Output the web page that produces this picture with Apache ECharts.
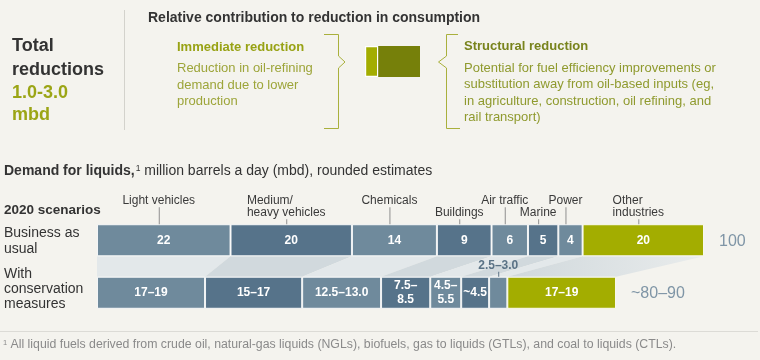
<!DOCTYPE html>
<html><head><meta charset="utf-8">
<script src="https://cdn.jsdelivr.net/npm/echarts@6/dist/echarts.min.js"></script>
<style>html,body{margin:0;padding:0;background:#f4f3ee}#c{width:760px;height:360px}</style>
</head><body><div id="c"></div>
<script>
// ---------- data ----------
const sectors = ['Light vehicles', 'Medium/\nheavy vehicles', 'Chemicals', 'Buildings', 'Air traffic', 'Marine', 'Power', 'Other\nindustries'];
const sectorLabelRaised = [true, false, true, false, true, false, true, false];
const scenarios = ['Business as usual', 'With conservation measures'];
const businessAsUsual = [22, 20, 14, 9, 6, 5, 4, 20];
const businessAsUsualLabels = ['22', '20', '14', '9', '6', '5', '4', '20'];
const conservation = [17.8, 16, 13, 8.1, 5.1, 4.6, 3.0, 17.9];
const conservationLabels = ['17–19', '15–17', '12.5–13.0', '7.5–\n8.5', '4.5–\n5.5', '~4.5', '2.5–3.0', '17–19'];
const conservationLabelAbove = [false, false, false, false, false, false, true, false];
const totalLabels = ['100', '~80–90'];
const contributionNames = ['Immediate reduction', 'Structural reduction'];
const contributionShares = [0.24, 0.76];

// ---------- styling ----------
const FONT = "'Liberation Sans', Arial, Helvetica, sans-serif";
const LIGHT = '#6f8a9c', DARK = '#56738a', GREEN = '#a3ad00', OLIVE = '#76800a';
const BAR_W = 32;
const segColor = i => i === sectors.length - 1 ? GREEN : (i % 2 === 0 ? LIGHT : DARK);

const cumTop = [], cumBot = [];
let sTop = 0, sBot = 0;
for (let i = 0; i < sectors.length; i++) {
  cumTop.push(sTop); sTop += businessAsUsual[i];
  cumBot.push(sBot); sBot += conservation[i];
}
const totals = [sTop, sBot];

const mctx = document.createElement('canvas').getContext('2d');
function textWidth(str, size, weight) {
  mctx.font = (weight || 'normal') + ' ' + size + 'px ' + FONT;
  return Math.max.apply(null, str.split('\n').map(s => mctx.measureText(s).width));
}

const chart = echarts.init(document.getElementById('c'), null, {renderer: 'canvas'});

const barSeries = sectors.map((name, i) => ({
  type: 'bar', name: name.replace('\n', ' '), stack: 'demand', barWidth: BAR_W,
  xAxisIndex: 0, yAxisIndex: 0, z: 3, silent: true,
  itemStyle: {color: segColor(i), borderColor: 'rgba(255,255,255,0.85)', borderWidth: 1},
  label: {
    show: true, position: 'inside', color: '#ffffff', fontWeight: 'bold', fontSize: 12,
    fontFamily: FONT, lineHeight: 14,
    formatter: p => p.dataIndex === 0 ? businessAsUsualLabels[i]
      : (conservationLabelAbove[i] ? '' : conservationLabels[i])
  },
  data: [businessAsUsual[i], conservation[i]]
}));

const bandSeries = {
  type: 'custom', xAxisIndex: 0, yAxisIndex: 0, z: 1, silent: true,
  data: sectors.map((s, i) => [cumTop[i], 0, i]),
  encode: {x: 0, y: 1},
  renderItem: (params, api) => {
    const i = api.value(2);
    const half = BAR_W / 2;
    const yTop = api.coord([0, 0])[1] + half;
    const yBot = api.coord([0, 1])[1] - half;
    const pts = [
      [api.coord([cumTop[i], 0])[0], yTop],
      [api.coord([cumTop[i] + businessAsUsual[i], 0])[0], yTop],
      [api.coord([cumBot[i] + conservation[i], 1])[0], yBot],
      [api.coord([cumBot[i], 1])[0], yBot]
    ];
    let fill = i % 2 === 0 ? '#e3e8ea' : '#d1d9dd';
    if (i === sectors.length - 1) {
      fill = new echarts.graphic.LinearGradient(0, 0, 1, 0, [
        {offset: 0, color: '#d0d8dc'}, {offset: 1, color: '#e9ecec'}]);
    }
    return {type: 'polygon', shape: {points: pts}, style: {fill: fill}};
  }
};

const sectorLabelSeries = {
  type: 'custom', xAxisIndex: 0, yAxisIndex: 0, z: 5, silent: true,
  data: sectors.map((s, i) => [cumTop[i] + businessAsUsual[i] / 2, 0, i]),
  encode: {x: 0, y: 1},
  renderItem: (params, api) => {
    const i = api.value(2);
    const c = api.coord([api.value(0), 0]);
    const x = c[0] - 5;
    const barTop = c[1] - BAR_W / 2;
    const raised = sectorLabelRaised[i];
    const tickLen = raised ? 17 : 5;
    const label = sectors[i];
    const w = textWidth(label, 12);
    return {type: 'group', children: [
      {type: 'line', shape: {x1: x + 0.5, y1: barTop - tickLen, x2: x + 0.5, y2: barTop},
        style: {stroke: '#8f8f8f', lineWidth: 1}},
      {type: 'text', x: x - w / 2, y: barTop - tickLen - 1,
        style: {text: label, fontSize: 12, fontFamily: FONT, fill: '#3a3a3a', lineHeight: 12,
          align: 'left', verticalAlign: 'bottom', textAlign: 'left', textVerticalAlign: 'bottom'}}
    ]};
  }
};

const aboveLabelSeries = {
  type: 'custom', xAxisIndex: 0, yAxisIndex: 0, z: 5, silent: true,
  data: sectors.map((s, i) => [cumBot[i] + conservation[i] / 2, 1, i]).filter((d, i) => conservationLabelAbove[i]),
  encode: {x: 0, y: 1},
  renderItem: (params, api) => {
    const i = api.value(2);
    const c = api.coord([api.value(0), 1]);
    const barTop = c[1] - BAR_W / 2;
    return {type: 'group', children: [
      {type: 'line', shape: {x1: c[0] + 0.5, y1: barTop - 5, x2: c[0] + 0.5, y2: barTop},
        style: {stroke: '#5b7386', lineWidth: 1}},
      {type: 'text', x: c[0], y: barTop - 5,
        style: {text: conservationLabels[i], fontSize: 12, fontWeight: 'bold', fontFamily: FONT, fill: '#5b7386',
          align: 'center', verticalAlign: 'bottom', textAlign: 'center', textVerticalAlign: 'bottom'}}
    ]};
  }
};

const totalSeries = {
  type: 'custom', xAxisIndex: 0, yAxisIndex: 0, z: 5, silent: true,
  data: totals.map((t, r) => [t, r]),
  encode: {x: 0, y: 1},
  renderItem: (params, api) => {
    const c = api.coord([api.value(0), api.value(1)]);
    return {type: 'text', x: c[0] + 15, y: c[1] + 1,
      style: {text: totalLabels[params.dataIndex], fontSize: 16, fontFamily: FONT, fill: '#7f95a6',
        align: 'left', verticalAlign: 'middle', textAlign: 'left', textVerticalAlign: 'middle'}};
  }
};

const contribSeries = contributionNames.map((n, i) => ({
  type: 'bar', name: n, stack: 'contrib', barWidth: 31, xAxisIndex: 1, yAxisIndex: 1, silent: true,
  itemStyle: {color: i === 0 ? GREEN : OLIVE, borderColor: '#ffffff', borderWidth: i === 0 ? 1.2 : 0},
  data: [contributionShares[i]]
}));

function txt(x, baseline, text, size, color, weight, extra) {
  return {type: 'text', x: x, y: baseline - 0.36 * size, silent: true,
    style: Object.assign({text: text, fontSize: size, fontFamily: FONT, fontWeight: weight || 'normal', fill: color,
      align: 'left', verticalAlign: 'middle', textAlign: 'left', textVerticalAlign: 'middle'}, extra || {})};
}
function lines(x, baseline0, step, arr, size, color, weight) {
  return arr.map((t, k) => txt(x, baseline0 + k * step, t, size, color, weight));
}
const BRK = '#a9b03c';

const graphics = [].concat(
  [txt(12, 53, 'Total', 18, '#333333', 'bold'),
   txt(12, 76.7, 'reductions', 18, '#333333', 'bold'),
   txt(12, 100, '1.0-3.0', 18, '#9ba515', 'bold'),
   txt(12, 122, 'mbd', 18, '#9ba515', 'bold'),
   {type: 'line', silent: true, shape: {x1: 124.5, y1: 10, x2: 124.5, y2: 130}, style: {stroke: '#d3d2cc', lineWidth: 1}},
   txt(148, 23.5, 'Relative contribution to reduction in consumption', 14, '#333333', 'bold'),
   txt(177, 51.7, contributionNames[0], 13, '#98a214', 'bold')],
  lines(177, 73.3, 16.6, ['Reduction in oil-refining', 'demand due to lower', 'production'], 13, '#9da53a'),
  [txt(464, 51, contributionNames[1], 13, '#78831c', 'bold')],
  lines(464, 73.3, 16.3, ['Potential for fuel efficiency improvements or', 'substitution away from oil-based inputs (eg,', 'in agriculture, construction, oil refining, and', 'rail transport)'], 13, '#8f9a2e'),
  [{type: 'polyline', silent: true, shape: {points: [[324, 34.5], [338.5, 34.5], [338.5, 56], [345, 62], [338.5, 68], [338.5, 128.5], [324, 128.5]]},
    style: {stroke: BRK, lineWidth: 1, fill: null}},
   {type: 'polyline', silent: true, shape: {points: [[458, 34.5], [446.5, 34.5], [446.5, 56], [438.5, 62], [446.5, 68], [446.5, 128.5], [460, 128.5]]},
    style: {stroke: BRK, lineWidth: 1, fill: null}},
   {type: 'text', x: 4, y: 171.5, silent: true,
    style: {text: '{b|Demand for liquids,}{s|1}{r| million barrels a day (mbd), rounded estimates}',
      align: 'left', verticalAlign: 'middle', textAlign: 'left', textVerticalAlign: 'middle',
      rich: {b: {fontSize: 14, fontWeight: 'bold', fontFamily: FONT, fill: '#333333'},
             s: {fontSize: 8.5, fontFamily: FONT, fill: '#333333', verticalAlign: 'top', padding: [0, 0, 0, 1]},
             r: {fontSize: 14, fontFamily: FONT, fill: '#333333'}}}},
   txt(4, 215, '2020 scenarios', 13.5, '#333333', 'bold')],
  lines(4, 238, 16, ['Business as', 'usual'], 14, '#333333'),
  lines(4, 279, 15, ['With', 'conservation', 'measures'], 14, '#333333'),
  [{type: 'line', silent: true, shape: {x1: 0, y1: 331.5, x2: 758, y2: 331.5}, style: {stroke: '#dcdbd6', lineWidth: 1}},
   {type: 'text', x: 3, y: 345, silent: true,
    style: {text: '{s|1} {r|All liquid fuels derived from crude oil, natural-gas liquids (NGLs), biofuels, gas to liquids (GTLs), and coal to liquids (CTLs).}',
      align: 'left', verticalAlign: 'middle', textAlign: 'left', textVerticalAlign: 'middle',
      rich: {s: {fontSize: 7.5, fontFamily: FONT, fill: '#8a8a8a', verticalAlign: 'top'},
             r: {fontSize: 12.3, fontFamily: FONT, fill: '#8a8a8a'}}}}]
);

chart.setOption({
  backgroundColor: '#f4f3ee',
  animation: false,
  grid: [
    {left: 97, top: 214, width: 607, height: 105, containLabel: false},
    {left: 365, top: 46, width: 55, height: 31, containLabel: false}
  ],
  xAxis: [
    {type: 'value', gridIndex: 0, min: 0, max: 100, show: false},
    {type: 'value', gridIndex: 1, min: 0, max: 1, show: false}
  ],
  yAxis: [
    {type: 'category', gridIndex: 0, data: scenarios, inverse: true, show: false},
    {type: 'category', gridIndex: 1, data: ['share'], show: false}
  ],
  series: [bandSeries].concat(barSeries, [sectorLabelSeries, aboveLabelSeries, totalSeries], contribSeries),
  graphic: graphics
});
</script></body></html>
